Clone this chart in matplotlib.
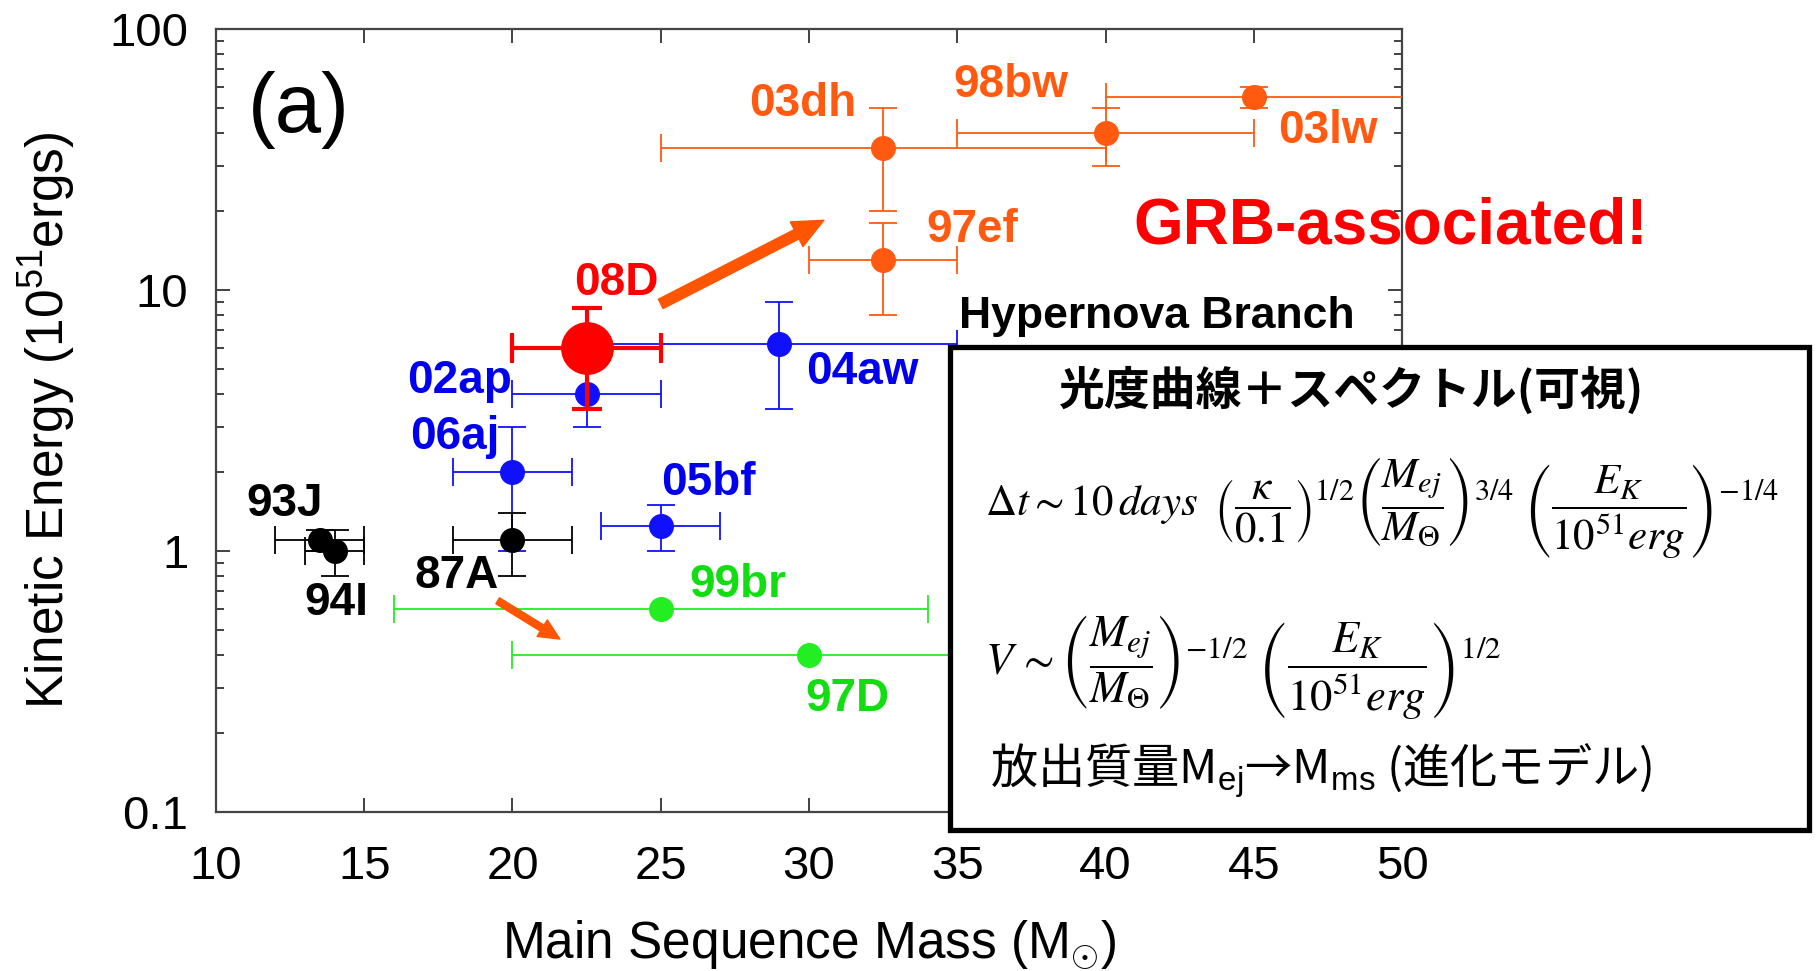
import matplotlib.pyplot as plt
from matplotlib.patches import Rectangle
from matplotlib.ticker import FixedLocator, FixedFormatter, LogLocator, NullFormatter

plt.rcParams['font.family'] = ['Liberation Sans', 'DejaVu Sans']
plt.rcParams['mathtext.fontset'] = 'custom'
plt.rcParams['mathtext.rm'] = 'Liberation Sans'
plt.rcParams['mathtext.it'] = 'Liberation Sans:italic'
plt.rcParams['mathtext.bf'] = 'Liberation Sans:bold'

# supernovae: main-sequence mass and kinetic energy with their ranges
names = ['99br', '97D', '97ef', '03dh', '98bw', '03lw',
         '04aw', '02ap', '06aj', '05bf', '93J', '94I', '87A']
mass = [25, 30, 32.5, 32.5, 40, 45, 29, 22.5, 20, 25, 13.5, 14, 20]
mass_lo = [16, 20, 30, 25, 35, 40, 22.5, 20, 18, 23, 12, 13, 18]
mass_hi = [34, 40, 35, 40, 45, 55, 35, 25, 22, 27, 15, 15, 22]
energy = [0.6, 0.4, 13, 35, 40, 55, 6.2, 4.0, 2.0, 1.25, 1.1, 1.0, 1.1]
energy_lo = [0.6, 0.4, 8, 20, 30, 50, 3.5, 3.0, 1.0, 1.0, 1.0, 0.8, 0.8]
energy_hi = [0.6, 0.4, 18, 50, 50, 60, 9.0, 5.0, 3.0, 1.5, 1.2, 1.2, 1.4]
colors = ['#22ee22', '#22ee22', '#ff5a10', '#ff5a10', '#ff5a10', '#ff5a10',
          '#1010ff', '#1010ff', '#1010ff', '#1010ff', 'black', 'black', 'black']

# where each name is written
label_x = [27.6, 31.3, 35.5, 29.8, 36.8, 47.5, 31.8, 18.2, 18.05, 26.6, 12.3, 14.06, 18.1]
label_y = [0.74, 0.27, 17.0, 51.4, 61.0, 40.6, 4.85, 4.5, 2.73, 1.83, 1.51, 0.63, 0.80]
label_colors = ['#11dd11', '#11dd11', '#ff5a10', '#ff5a10', '#ff5a10', '#ff5a10',
                '#0000ee', '#0000ee', '#0000ee', '#0000ee', 'black', 'black', 'black']

# SN 2008D
sn08d_mass, sn08d_mass_lo, sn08d_mass_hi = 22.5, 20, 25
sn08d_energy, sn08d_energy_lo, sn08d_energy_hi = 6.0, 3.5, 8.5

# evolution arrows (tail, head)
arrow_up = [(25.0, 8.85), (30.5, 18.5)]
arrow_down = [(19.5, 0.645), (21.6, 0.46)]

fig = plt.figure(figsize=(18.18, 9.71), dpi=100)
ax = fig.add_axes([0.1188, 0.1637, 0.6524, 0.8064])

for i in range(len(names)):
    m, e = mass[i], energy[i]
    xerr = [[m - mass_lo[i]], [mass_hi[i] - m]]
    yerr = None
    if energy_lo[i] < e or energy_hi[i] > e:
        yerr = [[e - energy_lo[i]], [energy_hi[i] - e]]
    ax.errorbar(m, e, xerr=xerr, yerr=yerr, fmt='o', color=colors[i], ms=17,
                elinewidth=1.3, capsize=10, capthick=1.3, zorder=3)
    ax.text(label_x[i], label_y[i], names[i], color=label_colors[i], fontsize=33,
            fontweight='bold', ha='center', va='center', zorder=4)

ax.errorbar(sn08d_mass, sn08d_energy,
            xerr=[[sn08d_mass - sn08d_mass_lo], [sn08d_mass_hi - sn08d_mass]],
            yerr=[[sn08d_energy - sn08d_energy_lo], [sn08d_energy_hi - sn08d_energy]],
            fmt='o', color='#ff0000', ms=37, elinewidth=3, capsize=11, capthick=3, zorder=5)
ax.text(23.5, 10.6, '08D', color='#ff0000', fontsize=33, fontweight='bold',
        ha='center', va='center', zorder=5)

ax.annotate('', xy=arrow_up[1], xytext=arrow_up[0],
            arrowprops=dict(arrowstyle='simple,head_length=2.2,head_width=2.0,tail_width=0.75',
                            mutation_scale=10, color='#ff5500', shrinkA=0, shrinkB=0), zorder=4)
ax.annotate('', xy=arrow_down[1], xytext=arrow_down[0],
            arrowprops=dict(arrowstyle='simple,head_length=1.5,head_width=1.4,tail_width=0.5',
                            mutation_scale=10, color='#ff5500', shrinkA=0, shrinkB=0), zorder=4)

ax.text(35.05, 7.95, 'Hypernova Branch', fontsize=32, fontweight='bold', ha='left', va='center')
ax.text(12.8, 48.8, '(a)', fontsize=60, ha='center', va='center')

ax.set_xlim(10, 50)
ax.set_yscale('log')
ax.set_ylim(0.1, 100)
ax.xaxis.set_major_locator(FixedLocator([10, 15, 20, 25, 30, 35, 40, 45, 50]))
ax.yaxis.set_major_locator(FixedLocator([0.1, 1, 10, 100]))
ax.yaxis.set_major_formatter(FixedFormatter(['0.1', '1', '10', '100']))
ax.yaxis.set_minor_locator(LogLocator(base=10, subs=range(2, 10)))
ax.yaxis.set_minor_formatter(NullFormatter())
ax.tick_params(which='both', direction='in', top=True, right=True, color='#333333', width=1.3)
ax.tick_params(which='major', length=10, labelsize=34)
ax.tick_params(axis='x', which='major', pad=24)
ax.tick_params(axis='y', which='major', pad=20)
ax.tick_params(which='minor', length=6)
for sp in ax.spines.values():
    sp.set_color('#444444')
    sp.set_linewidth(1.6)

ax.set_xlabel(r'Main Sequence Mass (M$_{\odot}$)', fontsize=37)
ax.set_ylabel(r'Kinetic Energy (10$^{51}$ergs)', fontsize=37)
ax.xaxis.set_label_coords(0.5, -0.135)
ax.yaxis.set_label_coords(-0.116, 0.5)

fig.text(0.765, 0.767, 'GRB-associated!', color='#ff0000', fontsize=46, fontweight='bold',
         ha='center', va='center', zorder=8)

# summary box
fig.add_artist(Rectangle((0.5226, 0.1452), 0.4725, 0.4974, transform=fig.transFigure,
                         facecolor='white', edgecolor='black', linewidth=3.8, zorder=10))
cjk = ['Noto Sans CJK JP', 'DejaVu Sans']
fig.text(0.7437, 0.5975, '光度曲線＋スペクトル(可視)', family=cjk, fontsize=33,
         fontweight='bold', ha='center', va='center', zorder=11)
eq1 = (r'$\Delta t \sim 10\,days\;\;\left(\dfrac{\kappa}{0.1}\right)^{1/2}'
       r'\left(\dfrac{M_{ej}}{M_{\Theta}}\right)^{3/4}\;'
       r'\left(\dfrac{E_K}{10^{51}erg}\right)^{-1/4}$')
eq2 = (r'$V\,\sim\left(\dfrac{M_{ej}}{M_{\Theta}}\right)^{-1/2}\;'
       r'\left(\dfrac{E_K}{10^{51}erg}\right)^{1/2}$')
fig.text(0.5418, 0.4768, eq1, math_fontfamily='stix', fontsize=31, ha='left', va='center', zorder=11)
fig.text(0.5418, 0.3131, eq2, math_fontfamily='stix', fontsize=32, ha='left', va='center', zorder=11)
fig.text(0.5446, 0.1936, r'放出質量M$_{\mathrm{ej}}$→M$_{\mathrm{ms}}$ (進化モデル)', family=cjk,
         fontsize=34, ha='left', va='baseline', zorder=11)

fig.savefig('out.png', dpi=100)
